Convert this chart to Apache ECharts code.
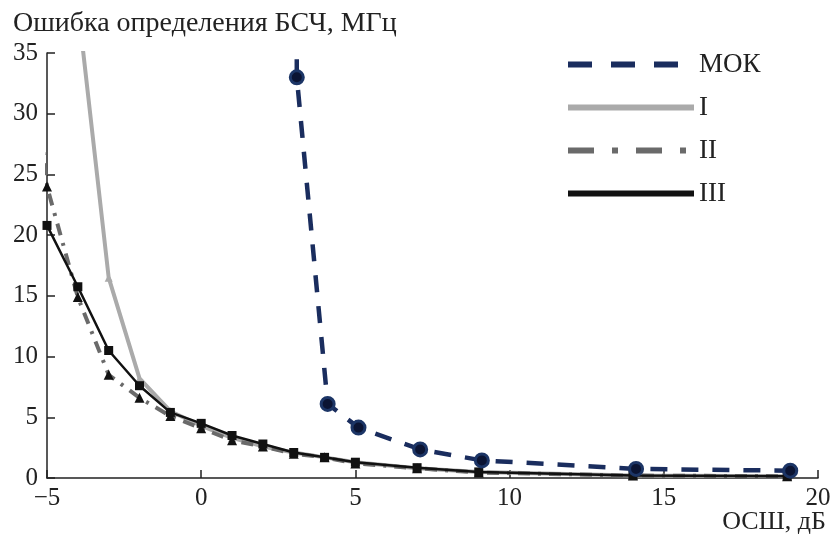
<!DOCTYPE html>
<html>
<head>
<meta charset="utf-8">
<script src="https://cdn.jsdelivr.net/npm/echarts@6/dist/echarts.min.js"></script>
<style>
  html, body { margin: 0; padding: 0; background: #fff; }
  #chart { width: 836px; height: 536px; }
</style>
</head>
<body>
<div id="chart"></div>
<script>
// values
var mokX = [2.9, 3.1, 4.1, 5.1, 7.1, 9.1, 14.1, 19.1];
var mokY = [300, 33, 6.1, 4.15, 2.35, 1.45, 0.75, 0.6];

var x1 = [-4, -3, -2, -1, 0, 1, 2, 3, 4, 5, 7, 9, 14, 19];
var y1 = [39, 16.5, 8.2, 5.5, 4.3, 3.3, 2.6, 2.1, 1.7, 1.3, 0.8, 0.5, 0.2, 0.15];

var x2 = [-5.3, -5, -4, -3, -2, -1, 0, 1, 2, 3, 4, 5, 7, 9, 14, 19];
var y2 = [31, 24, 14.9, 8.5, 6.6, 5.1, 4.1, 3.1, 2.6, 2.0, 1.7, 1.2, 0.8, 0.45, 0.2, 0.15];

var x3 = [-5, -4, -3, -2, -1, 0, 1, 2, 3, 4, 5, 7, 9, 14, 19];
var y3 = [20.8, 15.75, 10.5, 7.6, 5.4, 4.5, 3.5, 2.8, 2.1, 1.7, 1.3, 0.85, 0.5, 0.2, 0.15];

var xTicks = [-5, 0, 5, 10, 15, 20];
var yTicks = [0, 5, 10, 15, 20, 25, 30, 35];

function pairs(xs, ys) {
  return xs.map(function (x, i) { return [x, ys[i]]; });
}

var font = '"Liberation Serif", "DejaVu Serif", serif';
var chart = echarts.init(document.getElementById('chart'));

chart.setOption({
  animation: false,
  title: {
    text: 'Ошибка определения БСЧ, МГц',
    left: 8, top: 5,
    textStyle: { fontFamily: font, fontSize: 28, fontWeight: 'normal', color: '#222' }
  },
  legend: {
    orient: 'vertical',
    left: 560, top: 46,
    itemWidth: 126, itemHeight: 14, itemGap: 16,
    textStyle: { fontFamily: font, fontSize: 27, color: '#222' },
    itemStyle: { opacity: 0, borderWidth: 0 },
    data: [
      { name: 'МОК', lineStyle: { width: 6, type: [24, 19] } },
      { name: 'I', lineStyle: { width: 6, type: 'solid' } },
      { name: 'II', lineStyle: { width: 6, type: [26, 18, 6, 18] } },
      { name: 'III', lineStyle: { width: 6, type: 'solid' } }
    ]
  },
  grid: { left: 47, right: 18, top: 53, bottom: 58, outerBoundsMode: 'none', containLabel: false },
  xAxis: {
    type: 'value',
    min: xTicks[0], max: xTicks[xTicks.length - 1], interval: 5,
    name: 'ОСШ, дБ', nameLocation: 'end',
    nameGap: 8, nameMoveOverlap: false,
    nameTextStyle: { fontFamily: font, fontSize: 26, color: '#222', align: 'right', verticalAlign: 'top', padding: [31, 0, 0, 0] },
    axisLine: { onZero: false, lineStyle: { color: '#222', width: 1.5 } },
    axisTick: { inside: true, length: 8, lineStyle: { color: '#222', width: 1.5 } },
    axisLabel: {
      fontFamily: font, fontSize: 25, color: '#222', margin: 8,
      formatter: function (v) { return String(v).replace('-', '\u2212'); }
    },
    splitLine: { show: false }
  },
  yAxis: {
    type: 'value',
    min: yTicks[0], max: yTicks[yTicks.length - 1], interval: 5,
    axisLine: { show: true, onZero: false, lineStyle: { color: '#222', width: 1.5 } },
    axisTick: { show: true, inside: true, length: 8, lineStyle: { color: '#222', width: 1.5 } },
    axisLabel: { fontFamily: font, fontSize: 25, color: '#222', margin: 9 },
    splitLine: { show: false }
  },
  series: [
    {
      name: 'I', type: 'line', data: pairs(x1, y1),
      symbol: 'triangle', symbolSize: 8,
      itemStyle: { color: '#aaaaaa' },
      lineStyle: { color: '#aaaaaa', width: 4 },
      z: 2
    },
    {
      name: 'II', type: 'line', data: pairs(x2, y2),
      symbol: 'triangle', symbolSize: 10,
      itemStyle: { color: '#111' },
      lineStyle: { color: '#6a6a6a', width: 4, type: [12, 8, 3, 8] },
      z: 3
    },
    {
      name: 'III', type: 'line', data: pairs(x3, y3),
      symbol: 'rect', symbolSize: 9,
      itemStyle: { color: '#111' },
      lineStyle: { color: '#111', width: 2.5 },
      z: 4
    },
    {
      name: 'МОК', type: 'line', data: pairs(mokX, mokY),
      symbol: 'circle', symbolSize: 13,
      itemStyle: { color: '#0b1433', borderColor: '#1c3566', borderWidth: 3 },
      lineStyle: { color: '#1a2d5e', width: 4.5, type: [17, 14] },
      z: 5
    }
  ]
});
</script>
</body>
</html>
